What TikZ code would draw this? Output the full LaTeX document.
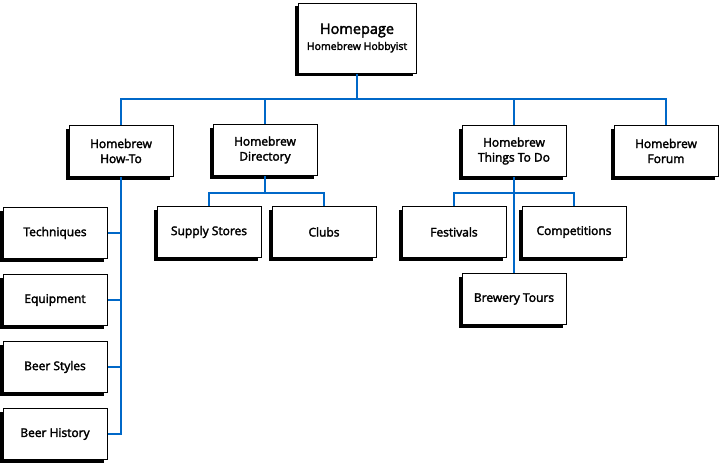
\documentclass[tikz,border=0pt]{standalone}
\usepackage{fontspec}
\setmainfont{Open Sans}[FakeBold=2.5]
\usetikzlibrary{shadows}
\definecolor{linkblue}{RGB}{0,104,200}
\tikzset{
  page/.style={draw, fill=white, line width=1pt, align=center,
    font=\fontsize{12}{15}\selectfont,
    minimum width=104pt, minimum height=51pt, inner sep=2pt,
    drop shadow={shadow xshift=-3pt, shadow yshift=-3pt, opacity=1, fill=black}},
  link/.style={linkblue, line width=1.4pt}
}
\begin{document}
\begin{tikzpicture}[x=1pt,y=-1pt]
  \useasboundingbox (0,0) rectangle (720,463);

  \begin{scope}[every node/.style={page}]
    \node[minimum width=118pt, minimum height=70pt] (home) at (357,38)
      {{\fontsize{14.5}{17}\selectfont Homepage}\\[1pt]{\fontsize{10.5}{12}\selectfont Homebrew Hobbyist}};
    \node (howto) at (121,151) {Homebrew\\How-To};
    \node (dir)   at (265,150) {Homebrew\\Directory};
    \node (todo)  at (514,151) {Homebrew\\Things To Do};
    \node (forum) at (666,151) {Homebrew\\Forum};
    \node (tech)  at (55,233) {Techniques};
    \node (equip) at (55,300) {Equipment};
    \node (style) at (55,367) {Beer Styles};
    \node (hist)  at (55,434) {Beer History};
    \node (supply) at (209,232) {Supply Stores};
    \node (clubs)  at (324,232) {Clubs};
    \node (fest)   at (454,232) {Festivals};
    \node (comp)   at (574,232) {Competitions};
    \node (tours)  at (514,299) {Brewery Tours};
  \end{scope}

  \coordinate (hbus) at (357,99);
  \coordinate (dbus) at (265,193);
  \coordinate (tbus) at (514,193);

  % connectors
  \draw[link] (home) -- (hbus);
  \draw[link] (howto.north) |- (hbus) -| (forum.north);
  \draw[link] (dir.north) |- (hbus) -| (todo.north);

  \draw[link] (howto.south) |- (tech.east);
  \draw[link] (howto.south) |- (equip.east);
  \draw[link] (howto.south) |- (style.east);
  \draw[link] (howto.south) |- (hist.east);

  \draw[link] (dir) -- (dbus);
  \draw[link] (supply.north) |- (dbus) -| (clubs.north);

  \draw[link] (fest.north) |- (tbus) -| (comp.north);
  \draw[link] (todo) -- (tours);

\end{tikzpicture}
\end{document}
